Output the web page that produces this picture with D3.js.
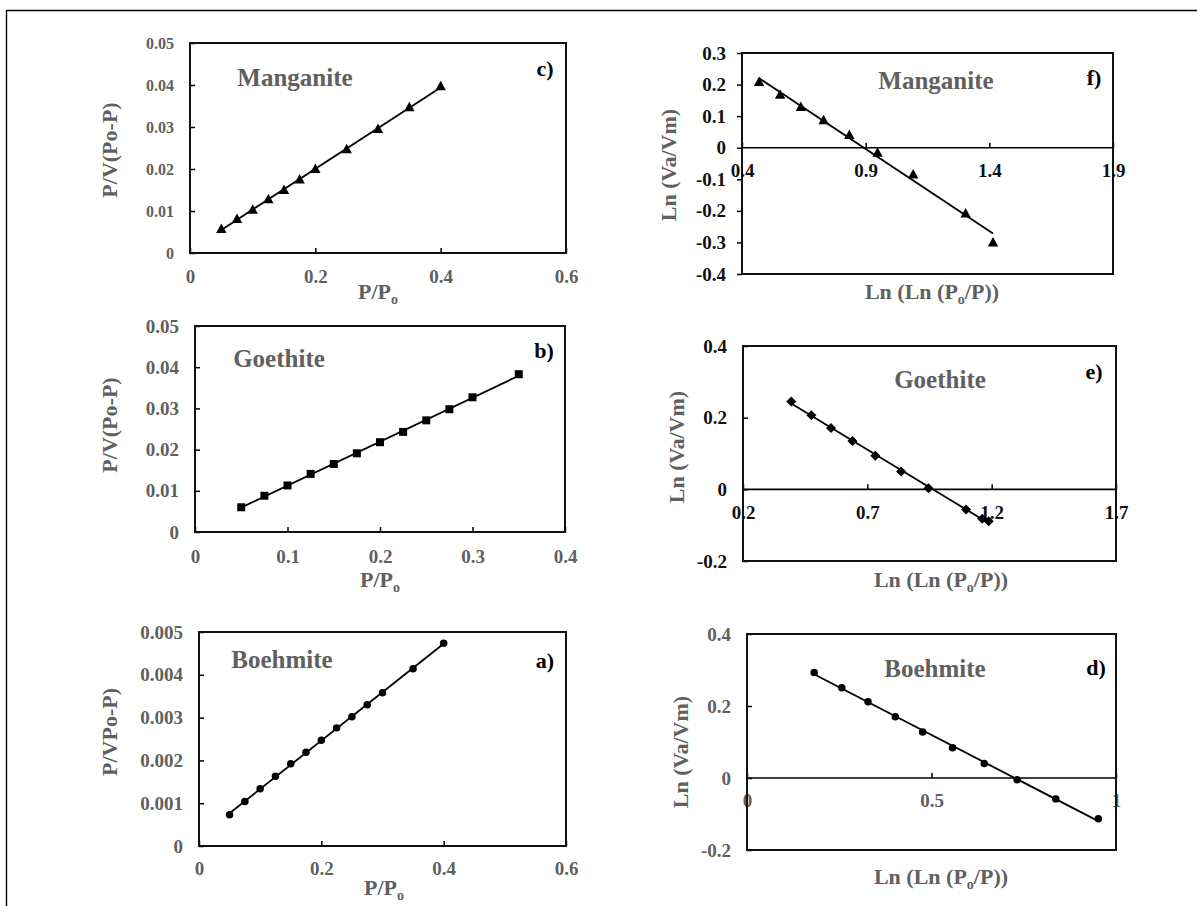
<!DOCTYPE html>
<html>
<head>
<meta charset="utf-8">
<script src="https://cdn.jsdelivr.net/npm/d3@7"></script>
<style>
  body { margin: 0; background: #fff; }
  svg text { font-family: "Liberation Serif", "Times New Roman", serif; font-weight: bold; }
</style>
</head>
<body>
<script>
// BET plots (left) and FHH plots (right)
const manganiteBetX = [0.05, 0.075, 0.1, 0.125, 0.15, 0.175, 0.2, 0.25, 0.3, 0.35, 0.4];
const manganiteBetY = [0.0057, 0.0081, 0.0103, 0.0128, 0.0150, 0.0175, 0.0200, 0.0247, 0.0295, 0.0347, 0.0397];

const goethiteBetX = [0.05, 0.075, 0.1, 0.125, 0.15, 0.175, 0.2, 0.225, 0.25, 0.275, 0.3, 0.35];
const goethiteBetY = [0.0060, 0.0088, 0.0113, 0.0141, 0.0165, 0.0191, 0.0218, 0.0243, 0.0271, 0.0298, 0.0327, 0.0383];

const boehmiteBetX = [0.05, 0.075, 0.1, 0.125, 0.15, 0.175, 0.2, 0.225, 0.25, 0.275, 0.3, 0.35, 0.4];
const boehmiteBetY = [0.00073, 0.00104, 0.00134, 0.00163, 0.00192, 0.00219, 0.00247, 0.00276, 0.00302, 0.00330, 0.00358, 0.00414, 0.00474];

const manganiteFhhX = [0.469, 0.554, 0.638, 0.730, 0.834, 0.948, 1.092, 1.304, 1.415];
const manganiteFhhY = [0.208, 0.168, 0.129, 0.087, 0.040, -0.016, -0.085, -0.208, -0.300];

const goethiteFhhX = [0.394, 0.475, 0.554, 0.640, 0.732, 0.836, 0.946, 1.097, 1.162, 1.188];
const goethiteFhhY = [0.245, 0.207, 0.171, 0.135, 0.094, 0.050, 0.003, -0.056, -0.082, -0.089];

const boehmiteFhhX = [0.182, 0.257, 0.328, 0.402, 0.476, 0.557, 0.643, 0.732, 0.837, 0.952];
const boehmiteFhhY = [0.293, 0.251, 0.212, 0.170, 0.128, 0.084, 0.040, -0.005, -0.058, -0.113];

// tick values
const betXTicks06 = [0, 0.2, 0.4, 0.6];
const betXTicks04 = [0, 0.1, 0.2, 0.3, 0.4];
const betYTicks = [0, 0.01, 0.02, 0.03, 0.04, 0.05];
const boehmiteYTicks = [0, 0.001, 0.002, 0.003, 0.004, 0.005];
const manganiteFhhXTicks = [0.4, 0.9, 1.4, 1.9];
const manganiteFhhYTicks = [-0.4, -0.3, -0.2, -0.1, 0, 0.1, 0.2, 0.3];
const goethiteFhhXTicks = [0.2, 0.7, 1.2, 1.7];
const fhhYTicks = [-0.2, 0, 0.2, 0.4];
const boehmiteFhhXTicks = [0, 0.5, 1];

const GREY = '#606060';
const SERIF = '"Liberation Serif", "Times New Roman", serif';

const panels = [
    { name: 'Manganite', letter: 'c)', x: manganiteBetX, y: manganiteBetY, marker: 'triangle',
      box: [190, 43, 566, 253], xDomain: [0, 0.6], yDomain: [0, 0.05], xTicks: betXTicks06, yTicks: betYTicks,
      yTickFont: 16, tickColor: GREY, xPad: 17, yTickOut: false, zeroAxis: false,
      yTitle: 'P/V(Po-P)', yTitlePos: [109, 150], xTitle: 'bet', xTitlePos: [378, 292],
      namePos: [295, 77], letterPos: [545, 68] },
    { name: 'Manganite', letter: 'f)', x: manganiteFhhX, y: manganiteFhhY, marker: 'triangle',
      box: [742, 53, 1113, 274], xDomain: [0.4, 1.9], yDomain: [-0.4, 0.3], xTicks: manganiteFhhXTicks, yTicks: manganiteFhhYTicks,
      yTickFont: 19, tickColor: '#111', xPad: 16, yTickOut: true, zeroAxis: true,
      yTitle: 'Ln (Va/Vm)', yTitlePos: [668, 165], xTitle: 'fhh', xTitlePos: [932, 292],
      namePos: [936, 80], letterPos: [1094, 77] },
    { name: 'Goethite', letter: 'b)', x: goethiteBetX, y: goethiteBetY, marker: 'square',
      box: [195, 326, 565, 532], xDomain: [0, 0.4], yDomain: [0, 0.05], xTicks: betXTicks04, yTicks: betYTicks,
      yTickFont: 19, tickColor: GREY, xPad: 18, yTickOut: false, zeroAxis: false,
      yTitle: 'P/V(Po-P)', yTitlePos: [109, 425], xTitle: 'bet', xTitlePos: [380, 580],
      namePos: [279, 358], letterPos: [544, 350] },
    { name: 'Goethite', letter: 'e)', x: goethiteFhhX, y: goethiteFhhY, marker: 'diamond',
      box: [743, 346, 1116, 561], xDomain: [0.2, 1.7], yDomain: [-0.2, 0.4], xTicks: goethiteFhhXTicks, yTicks: fhhYTicks,
      yTickFont: 19, tickColor: '#111', xPad: 16, yTickOut: false, zeroAxis: true,
      yTitle: 'Ln (Va/Vm)', yTitlePos: [676, 447], xTitle: 'fhh', xTitlePos: [941, 580],
      namePos: [940, 379], letterPos: [1094, 371] },
    { name: 'Boehmite', letter: 'a)', x: boehmiteBetX, y: boehmiteBetY, marker: 'circle',
      box: [199, 632, 566, 846], xDomain: [0, 0.6], yDomain: [0, 0.005], xTicks: betXTicks06, yTicks: boehmiteYTicks,
      yTickFont: 19, tickColor: GREY, xPad: 16, yTickOut: false, zeroAxis: false,
      yTitle: 'P/VPo-P)', yTitlePos: [109, 732], xTitle: 'bet', xTitlePos: [384, 888],
      namePos: [282, 659], letterPos: [545, 660] },
    { name: 'Boehmite', letter: 'd)', x: boehmiteFhhX, y: boehmiteFhhY, marker: 'circle',
      box: [747, 634, 1116, 850], xDomain: [0, 1], yDomain: [-0.2, 0.4], xTicks: boehmiteFhhXTicks, yTicks: fhhYTicks,
      yTickFont: 19, tickColor: GREY, xPad: 16, yTickOut: false, zeroAxis: true,
      yTitle: 'Ln (Va/Vm)', yTitlePos: [680, 752], xTitle: 'fhh', xTitlePos: [941, 877],
      namePos: [935, 668], letterPos: [1096, 667] }
];

const svg = d3.select('body').append('svg')
    .attr('width', 1197)
    .attr('height', 906)
    .style('display', 'block');

// outer frame (top and left edges only)
svg.append('path')
    .attr('d', 'M6.5,906 L6.5,10.5 L1197,10.5')
    .attr('fill', 'none')
    .attr('stroke', '#000')
    .attr('stroke-width', 1.4);

function fmt(v) {
    return String(+v.toFixed(4));
}

function markerPath(type) {
    if (type === 'triangle') return 'M0,-5.5 L5.2,4 L-5.2,4 Z';
    if (type === 'square') return 'M-4,-4 L4,-4 L4,4 L-4,4 Z';
    if (type === 'diamond') return 'M0,-5 L5,0 L0,5 L-5,0 Z';
    return d3.symbol(d3.symbolCircle, 44)();
}

function fitLine(xs, ys) {
    const mx = d3.mean(xs), my = d3.mean(ys);
    const sxy = d3.sum(xs, (x, i) => (x - mx) * (ys[i] - my));
    const sxx = d3.sum(xs, x => (x - mx) * (x - mx));
    const slope = sxy / sxx;
    const icpt = my - slope * mx;
    const ext = d3.extent(xs);
    return ext.map(x => [x, icpt + slope * x]);
}

function addXTitle(g, kind, pos) {
    const t = g.append('text')
        .attr('x', pos[0])
        .attr('y', pos[1] + 7)
        .attr('text-anchor', 'middle')
        .attr('font-family', SERIF)
        .attr('fill', GREY)
        .attr('font-size', 22);
    if (kind === 'bet') {
        t.append('tspan').text('P/P');
        t.append('tspan').attr('dy', 5).attr('font-size', 14).text('o');
    } else {
        t.append('tspan').text('Ln (Ln (P');
        t.append('tspan').attr('dy', 5).attr('font-size', 14).text('o');
        t.append('tspan').attr('dy', -5).text('/P))');
    }
}

panels.forEach(p => {
    const [x0, y0, x1, y1] = p.box;
    const g = svg.append('g');

    const x = d3.scaleLinear().domain(p.xDomain).range([x0, x1]);
    const y = d3.scaleLinear().domain(p.yDomain).range([y1, y0]);

    // y axis
    const yAxis = d3.axisLeft(y)
        .tickValues(p.yTicks)
        .tickFormat(fmt)
        .tickSize(p.yTickOut ? 5 : -5)
        .tickPadding(p.yTickOut ? 11 : 16);
    const ya = g.append('g')
        .attr('transform', `translate(${x0},0)`)
        .call(yAxis)
        .attr('font-family', SERIF)
        .attr('font-size', p.yTickFont);
    ya.select('.domain').remove();
    ya.selectAll('line').attr('stroke', '#000').attr('stroke-width', 1.5);
    ya.selectAll('text').attr('fill', p.tickColor);

    // x axis: along the zero line for FHH plots, along the bottom for BET plots
    const xAxisY = p.zeroAxis ? y(0) : y1;
    const xAxis = d3.axisBottom(x)
        .tickValues(p.xTicks)
        .tickFormat(fmt)
        .tickSize(-5)
        .tickPadding(p.xPad);
    const xa = g.append('g')
        .attr('transform', `translate(0,${xAxisY})`)
        .call(xAxis)
        .attr('font-family', SERIF)
        .attr('font-size', 19);
    xa.select('.domain').remove();
    xa.selectAll('line').attr('stroke', '#000').attr('stroke-width', 1.5);
    xa.selectAll('text').attr('fill', p.tickColor);

    if (p.zeroAxis) {
        g.append('line')
            .attr('x1', x0).attr('x2', x1)
            .attr('y1', y(0)).attr('y2', y(0))
            .attr('stroke', '#000')
            .attr('stroke-width', 1.6);
    }

    // plot frame
    g.append('rect')
        .attr('x', x0).attr('y', y0)
        .attr('width', x1 - x0).attr('height', y1 - y0)
        .attr('fill', 'none')
        .attr('stroke', '#111')
        .attr('stroke-width', 2);

    // fitted line
    g.append('path')
        .datum(fitLine(p.x, p.y))
        .attr('d', d3.line().x(d => x(d[0])).y(d => y(d[1])))
        .attr('fill', 'none')
        .attr('stroke', '#000')
        .attr('stroke-width', 1.8);

    // markers
    g.selectAll('path.pt')
        .data(p.x.map((v, i) => [v, p.y[i]]))
        .enter()
        .append('path')
        .attr('class', 'pt')
        .attr('d', markerPath(p.marker))
        .attr('transform', d => `translate(${x(d[0])},${y(d[1])})`)
        .attr('fill', '#000');

    // texts
    g.append('text')
        .attr('transform', `translate(${p.yTitlePos[0]},${p.yTitlePos[1]}) rotate(-90)`)
        .attr('text-anchor', 'middle')
        .attr('dy', '0.35em')
        .attr('font-family', SERIF)
        .attr('font-size', 22)
        .attr('fill', GREY)
        .text(p.yTitle);

    addXTitle(g, p.xTitle, p.xTitlePos);

    g.append('text')
        .attr('x', p.namePos[0])
        .attr('y', p.namePos[1])
        .attr('dy', '0.35em')
        .attr('text-anchor', 'middle')
        .attr('font-family', SERIF)
        .attr('font-size', 25)
        .attr('fill', GREY)
        .text(p.name);

    g.append('text')
        .attr('x', p.letterPos[0])
        .attr('y', p.letterPos[1])
        .attr('dy', '0.35em')
        .attr('text-anchor', 'middle')
        .attr('font-family', SERIF)
        .attr('font-size', 22)
        .attr('fill', '#000')
        .text(p.letter);
});
</script>
</body>
</html>
